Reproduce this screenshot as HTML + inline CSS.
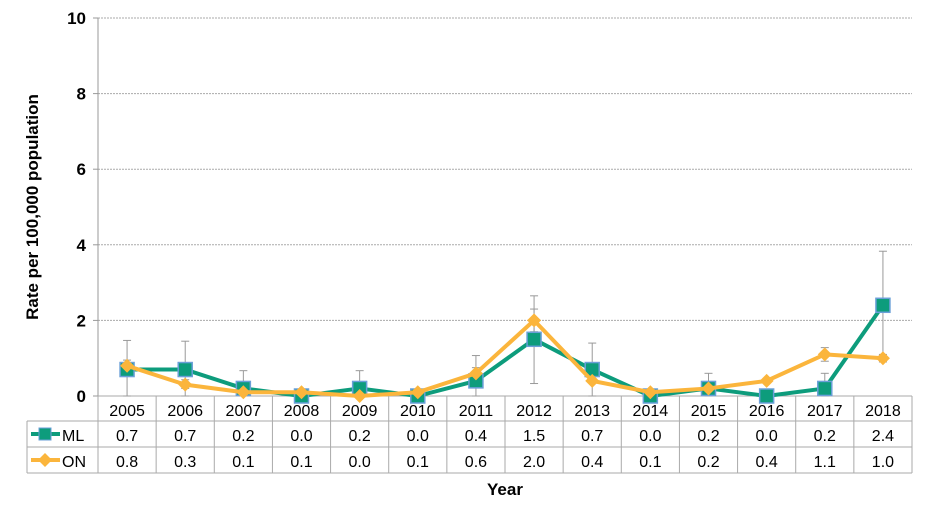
<!DOCTYPE html>
<html><head><meta charset="utf-8"><style>
body{margin:0;background:#fff;font-family:"Liberation Sans",Arial,sans-serif}
svg text{font-family:"Liberation Sans",Arial,sans-serif}
</style></head><body>
<svg id="c" width="930" height="518"></svg>
<script>
const years=["2005","2006","2007","2008","2009","2010","2011","2012","2013","2014","2015","2016","2017","2018"];
const ml=[0.7,0.7,0.2,0.0,0.2,0.0,0.4,1.5,0.7,0.0,0.2,0.0,0.2,2.4];
const on=[0.8,0.3,0.1,0.1,0.0,0.1,0.6,2.0,0.4,0.1,0.2,0.4,1.1,1.0];
const mlHi=[1.47,1.45,0.67,0,0.67,0,1.07,2.65,1.4,0,0.6,0,0.6,3.83];
const mlLo=[0,0,0,0,0,0,0,0.33,0,0,0,0,0,1.0];
const onHi=[0.95,0.43,0.1,0.1,0,0.1,0.75,2.3,0.4,0.1,0.2,0.4,1.28,1.1];
const onLo=[0.6,0.2,0.1,0.1,0,0.1,0.5,1.7,0.4,0.1,0.2,0.4,0.92,0.9];
const yTicks=[0,2,4,6,8,10];
const X0=98,X1=912,Y0=396,Y1=18,cw=(X1-X0)/years.length;
const x=i=>X0+cw*(i+0.5), y=v=>Y0-(Y0-Y1)*v/10;
const s=document.getElementById('c');const NS="http://www.w3.org/2000/svg";
function mk(t,a,p){const e=document.createElementNS(NS,t);for(const k in a)e.setAttribute(k,a[k]);(p||s).appendChild(e);return e;}
yTicks.forEach(v=>{
 if(v>0){const g=mk('line',{x1:X0,x2:X1,y1:y(v),y2:y(v),stroke:'#aaa','stroke-dasharray':'2,1'});
 
 }
 const t=mk('text',{x:X0-12,y:y(v)+6,'text-anchor':'end','font-size':17,'font-weight':'bold'});t.textContent=v;
 
 
 mk('line',{x1:X0-5,x2:X0,y1:y(v),y2:y(v),stroke:'#999'});
});
mk('line',{x1:X0,x2:X0,y1:Y1,y2:Y0,stroke:'#999'});
// table
const rows=[396,421,447,473];
rows.forEach((r,k)=>mk('line',{x1:k==0?X0:27,x2:X1,y1:r,y2:r,stroke:'#aaa'}));
for(let i=0;i<=years.length;i++)mk('line',{x1:X0+cw*i,x2:X0+cw*i,y1:396,y2:473,stroke:'#aaa'});
mk('line',{x1:27,x2:27,y1:421,y2:473,stroke:'#aaa'});
years.forEach((yr,i)=>{
 let t=mk('text',{x:x(i),y:416,'text-anchor':'middle','font-size':16});t.textContent=yr;
 
 
 t=mk('text',{x:x(i),y:441,'text-anchor':'middle','font-size':16});t.textContent=ml[i].toFixed(1);
 
 
 t=mk('text',{x:x(i),y:467,'text-anchor':'middle','font-size':16});t.textContent=on[i].toFixed(1);
 
 
});
// error bars
function eb(hi,lo,i){const cx=x(i);mk('line',{x1:cx,x2:cx,y1:y(hi),y2:y(lo),stroke:'#999'});
 [hi,lo].forEach(v=>mk('line',{x1:cx-4,x2:cx+4,y1:y(v),y2:y(v),stroke:'#999'}));}
years.forEach((_,i)=>{eb(mlHi[i],mlLo[i],i);eb(onHi[i],onLo[i],i);});
// lines
const pl=(d,c,n)=>{const p=mk('polyline',{points:d.map((v,i)=>x(i)+','+y(v)).join(' '),fill:'none',stroke:c,'stroke-width':4,'stroke-linejoin':'round'});
 
 };
pl(ml,'#0d9c7c','ml-line');
ml.forEach((v,i)=>{const r=mk('rect',{x:x(i)-7,y:y(v)-7,width:14,height:14,fill:'#0d9c7c',stroke:'#6a9fd8','stroke-width':1.5});
 
 });
pl(on,'#fbb53c','on-line');
on.forEach((v,i)=>{const cx=x(i),cy=y(v);const p=mk('polygon',{points:`${cx},${cy-7} ${cx+7},${cy} ${cx},${cy+7} ${cx-7},${cy}`,fill:'#fbb53c'});
 
 });
// legend
mk('line',{x1:31,x2:60,y1:434,y2:434,stroke:'#0d9c7c','stroke-width':4});
mk('rect',{x:39,y:428,width:12,height:12,fill:'#0d9c7c',stroke:'#6a9fd8'});
let t=mk('text',{x:62,y:441,'font-size':16});t.textContent='ML';


mk('line',{x1:31,x2:60,y1:460,y2:460,stroke:'#fbb53c','stroke-width':4});
mk('polygon',{points:'45,453 52,460 45,467 38,460',fill:'#fbb53c'});
t=mk('text',{x:62,y:467,'font-size':16});t.textContent='ON';


t=mk('text',{x:505,y:495,'text-anchor':'middle','font-size':17,'font-weight':'bold'});t.textContent='Year';


t=mk('text',{x:0,y:0,'text-anchor':'middle','font-size':17,'font-weight':'bold',transform:'translate(38,207) rotate(-90)'});t.textContent='Rate per 100,000 population';


</script>
</body></html>
